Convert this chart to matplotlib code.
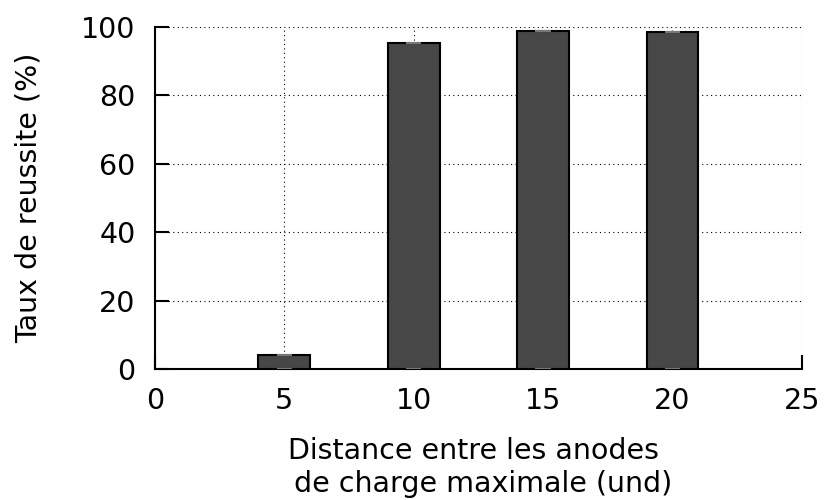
import matplotlib
matplotlib.use("Agg")
import matplotlib.pyplot as plt

# data
distances = [5, 10, 15, 20]
success = [4.0, 95.2, 98.7, 98.6]
xticks = [0, 5, 10, 15, 20, 25]
yticks = [0, 20, 40, 60, 80, 100]

plt.rcParams["font.family"] = ["DejaVu Sans"]
plt.rcParams["font.size"] = 20.5

fig = plt.figure(figsize=(8.24, 5.0), dpi=100)
ax = fig.add_axes([0.188, 0.262, 0.785, 0.684])

ax.bar(distances, success, width=2, color="#474747",
       edgecolor="black", linewidth=1.5, zorder=3)
# light caps at top and bottom of each bar
ax.hlines(success, [d - 0.3 for d in distances], [d + 0.3 for d in distances],
          color="#777777", linewidth=1.5, zorder=4)
ax.hlines([0] * len(distances), [d - 0.3 for d in distances],
          [d + 0.3 for d in distances], color="#777777", linewidth=1.5, zorder=4)

ax.set_xlim(0, 25)
ax.set_ylim(0, 100)
ax.set_xticks(xticks)
ax.set_yticks(yticks)
ax.tick_params(direction="in", length=10, width=1.5)
ax.tick_params(axis="y", pad=14)
ax.tick_params(axis="x", pad=13)

ax.grid(True, linestyle=(0, (1, 3)), color="black", linewidth=0.8, zorder=0)
ax.spines["top"].set_visible(False)
ax.spines["right"].set_visible(False)
ax.spines["left"].set_linewidth(1.5)
ax.spines["bottom"].set_linewidth(1.5)

ax.set_ylabel("Taux de reussite (%)")
ax.set_xlabel("Distance entre les anodes \n de charge maximale (und)",
              linespacing=1.2)
ax.yaxis.set_label_coords(-0.173, 0.5)
ax.xaxis.set_label_coords(0.5, -0.2)

fig.savefig("out.png", dpi=100)
